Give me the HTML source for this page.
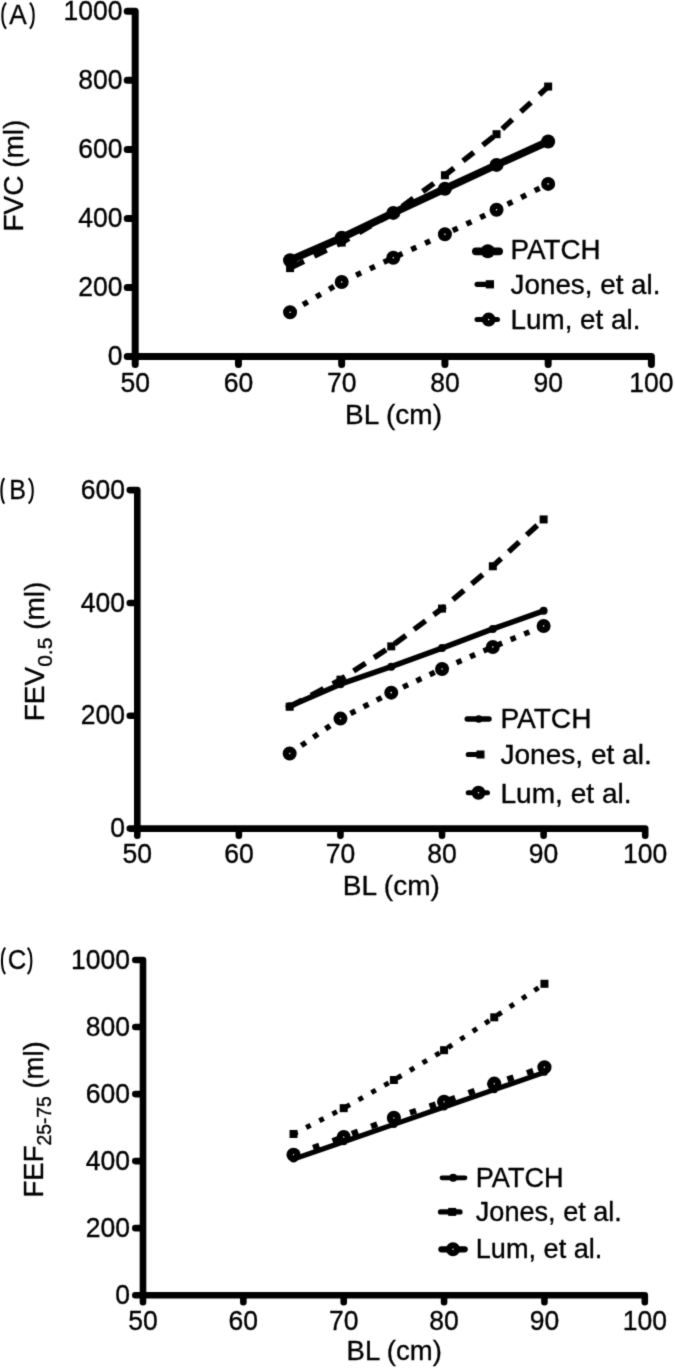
<!DOCTYPE html><html><head><meta charset="utf-8"><style>html,body{margin:0;padding:0;background:#fff;}svg{display:block;}text{font-family:"Liberation Sans", sans-serif;fill:#000;stroke:#000;stroke-width:0.35px;}</style></head><body>
<svg width="675" height="1369" viewBox="0 0 675 1369">
<defs><filter id="bl" x="0" y="0" width="675" height="1369" filterUnits="userSpaceOnUse" primitiveUnits="userSpaceOnUse" color-interpolation-filters="sRGB"><feConvolveMatrix order="3" kernelMatrix="0.0367 0.1915 0.0367 0.1915 1 0.1915 0.0367 0.1915 0.0367" divisor="1.9127" edgeMode="duplicate"/></filter></defs>
<rect width="675" height="1369" fill="#fff"/>
<g filter="url(#bl)">
<path d="M127.2 11.3 H135.2 V356.5 H651.4 V364.5 M127.2 11.3 H135.2 M127.2 80.34 H135.2 M127.2 149.38 H135.2 M127.2 218.42 H135.2 M127.2 287.46 H135.2 M127.2 356.5 H135.2 M135.2 356.5 V364.5 M238.44 356.5 V364.5 M341.68 356.5 V364.5 M444.92 356.5 V364.5 M548.16 356.5 V364.5" fill="none" stroke="#000" stroke-width="7" stroke-linecap="round" stroke-linejoin="round"/>
<text transform="translate(122.6 19.8) scale(0.975 1)" text-anchor="end" font-size="27.2">1000</text>
<text transform="translate(122.6 88.84) scale(0.975 1)" text-anchor="end" font-size="27.2">800</text>
<text transform="translate(122.6 157.88) scale(0.975 1)" text-anchor="end" font-size="27.2">600</text>
<text transform="translate(122.6 226.92) scale(0.975 1)" text-anchor="end" font-size="27.2">400</text>
<text transform="translate(122.6 295.96) scale(0.975 1)" text-anchor="end" font-size="27.2">200</text>
<text transform="translate(122.6 365) scale(0.975 1)" text-anchor="end" font-size="27.2">0</text>
<text transform="translate(135.2 392.4) scale(0.975 1)" text-anchor="middle" font-size="27.2">50</text>
<text transform="translate(238.44 392.4) scale(0.975 1)" text-anchor="middle" font-size="27.2">60</text>
<text transform="translate(341.68 392.4) scale(0.975 1)" text-anchor="middle" font-size="27.2">70</text>
<text transform="translate(444.92 392.4) scale(0.975 1)" text-anchor="middle" font-size="27.2">80</text>
<text transform="translate(548.16 392.4) scale(0.975 1)" text-anchor="middle" font-size="27.2">90</text>
<text transform="translate(651.4 392.4) scale(0.975 1)" text-anchor="middle" font-size="27.2">100</text>
<text x="0" y="0" font-size="28" transform="translate(23.2 231.6) rotate(-90)">FVC (ml)</text>
<text x="393.5" y="424.3" text-anchor="middle" font-size="28">BL (cm)</text>
<path d="M6.05 2.8 C1.12 8.2 1.12 23.3 6.05 28.7" fill="none" stroke="#000" stroke-width="2.1"/>
<path d="M29.95 2.8 C34.88 8.2 34.88 23.3 29.95 28.7" fill="none" stroke="#000" stroke-width="2.1"/>
<text transform="translate(18 23.8) scale(0.92 1)" text-anchor="middle" font-size="28.5">A</text>
<path d="M290.06 312.31 L341.68 281.94 L393.3 257.77 L444.92 234.3 L496.54 209.79 L548.16 183.9" fill="none" stroke="#000" stroke-width="5.5" stroke-dasharray="5.5 9.7" stroke-dashoffset="0.15" stroke-linecap="butt" stroke-linejoin="round"/>
<circle cx="290.06" cy="312.31" r="3.9" fill="#fff" stroke="#000" stroke-width="6.2"/>
<circle cx="341.68" cy="281.94" r="3.9" fill="#fff" stroke="#000" stroke-width="6.2"/>
<circle cx="393.3" cy="257.77" r="3.9" fill="#fff" stroke="#000" stroke-width="6.2"/>
<circle cx="444.92" cy="234.3" r="3.9" fill="#fff" stroke="#000" stroke-width="6.2"/>
<circle cx="496.54" cy="209.79" r="3.9" fill="#fff" stroke="#000" stroke-width="6.2"/>
<circle cx="548.16" cy="183.9" r="3.9" fill="#fff" stroke="#000" stroke-width="6.2"/>
<path d="M290.06 268.13 L341.68 242.58 L393.3 212.9 L444.92 175.27 L496.54 134.19 L548.16 86.55" fill="none" stroke="#000" stroke-width="5.5" stroke-dasharray="13.8 11.5" stroke-dashoffset="23.6" stroke-linecap="butt" stroke-linejoin="round"/>
<rect x="286.06" y="264.13" width="8" height="8"/>
<rect x="337.68" y="238.58" width="8" height="8"/>
<rect x="389.3" y="208.9" width="8" height="8"/>
<rect x="440.92" y="171.27" width="8" height="8"/>
<rect x="492.54" y="130.19" width="8" height="8"/>
<rect x="544.16" y="82.55" width="8" height="8"/>
<path d="M290.06 260.19 L341.68 237.75 L393.3 212.9 L444.92 188.73 L496.54 164.91 L548.16 141.44" fill="none" stroke="#000" stroke-width="7.6" stroke-linecap="butt" stroke-linejoin="round"/>
<circle cx="290.06" cy="260.19" r="7"/>
<circle cx="341.68" cy="237.75" r="7"/>
<circle cx="393.3" cy="212.9" r="7"/>
<circle cx="444.92" cy="188.73" r="7"/>
<circle cx="496.54" cy="164.91" r="7"/>
<circle cx="548.16" cy="141.44" r="7"/>
<path d="M475.9 251.3 H499.1" stroke="#000" stroke-width="7.8" stroke-linecap="round"/>
<circle cx="487.8" cy="251.3" r="7"/>
<text x="510.6" y="259.4" font-size="27.8">PATCH</text>
<path d="M477.1 284.3 H489.4" stroke="#000" stroke-width="5.2" stroke-linecap="round"/>
<rect x="485.8" y="280.2" width="8.2" height="8.2"/>
<text x="510.6" y="293.8" font-size="27.8">Jones, et al.</text>
<path d="M477 319.6 H497.5" stroke="#000" stroke-width="5" stroke-linecap="round"/>
<circle cx="488.7" cy="319.6" r="3.9" fill="#fff" stroke="#000" stroke-width="6.2"/>
<text x="510.6" y="329.2" font-size="27.8">Lum, et al.</text>
<path d="M129.8 490.1 H137.3 V828.6 H645.2 V835.8 M129.8 490.1 H137.3 M129.8 602.93 H137.3 M129.8 715.77 H137.3 M129.8 828.6 H137.3 M137.3 828.6 V835.8 M238.88 828.6 V835.8 M340.46 828.6 V835.8 M442.04 828.6 V835.8 M543.62 828.6 V835.8" fill="none" stroke="#000" stroke-width="6.6" stroke-linecap="round" stroke-linejoin="round"/>
<text transform="translate(125 498.7) scale(0.975 1)" text-anchor="end" font-size="27.2">600</text>
<text transform="translate(125 611.53) scale(0.975 1)" text-anchor="end" font-size="27.2">400</text>
<text transform="translate(125 724.37) scale(0.975 1)" text-anchor="end" font-size="27.2">200</text>
<text transform="translate(125 837.2) scale(0.975 1)" text-anchor="end" font-size="27.2">0</text>
<text transform="translate(137.3 863.4) scale(0.975 1)" text-anchor="middle" font-size="27.2">50</text>
<text transform="translate(238.88 863.4) scale(0.975 1)" text-anchor="middle" font-size="27.2">60</text>
<text transform="translate(340.46 863.4) scale(0.975 1)" text-anchor="middle" font-size="27.2">70</text>
<text transform="translate(442.04 863.4) scale(0.975 1)" text-anchor="middle" font-size="27.2">80</text>
<text transform="translate(543.62 863.4) scale(0.975 1)" text-anchor="middle" font-size="27.2">90</text>
<text transform="translate(645.2 863.4) scale(0.975 1)" text-anchor="middle" font-size="27.2">100</text>
<text x="0" y="0" font-size="28" transform="translate(43.7 721.3) rotate(-90)">FEV<tspan font-size="21" dy="8.5">0.5</tspan><tspan dy="-8.5"> (ml)</tspan></text>
<text x="391.3" y="894.7" text-anchor="middle" font-size="28">BL (cm)</text>
<path d="M4.25 478.2 C0.52 483.6 0.52 498.2 4.25 503.6" fill="none" stroke="#000" stroke-width="2.1"/>
<path d="M28.65 478.2 C34.12 483.6 34.12 498.2 28.65 503.6" fill="none" stroke="#000" stroke-width="2.1"/>
<text transform="translate(17.55 498.9) scale(0.88 1)" text-anchor="middle" font-size="28.5">B</text>
<path d="M289.67 753.57 L340.46 718.59 L391.25 692.64 L442.04 668.94 L492.83 646.94 L543.62 626.06" fill="none" stroke="#000" stroke-width="5.5" stroke-dasharray="5.5 9.2" stroke-dashoffset="0.55" stroke-linecap="butt" stroke-linejoin="round"/>
<circle cx="289.67" cy="753.57" r="3.9" fill="#fff" stroke="#000" stroke-width="6.2"/>
<circle cx="340.46" cy="718.59" r="3.9" fill="#fff" stroke="#000" stroke-width="6.2"/>
<circle cx="391.25" cy="692.64" r="3.9" fill="#fff" stroke="#000" stroke-width="6.2"/>
<circle cx="442.04" cy="668.94" r="3.9" fill="#fff" stroke="#000" stroke-width="6.2"/>
<circle cx="492.83" cy="646.94" r="3.9" fill="#fff" stroke="#000" stroke-width="6.2"/>
<circle cx="543.62" cy="626.06" r="3.9" fill="#fff" stroke="#000" stroke-width="6.2"/>
<path d="M289.67 706.74 L340.46 679.66 L391.25 646.37 L442.04 608.58 L492.83 566.26 L543.62 519.44" fill="none" stroke="#000" stroke-width="5.5" stroke-dasharray="14.3 10.2" stroke-dashoffset="0.25" stroke-linecap="butt" stroke-linejoin="round"/>
<rect x="285.67" y="702.74" width="8" height="8"/>
<rect x="336.46" y="675.66" width="8" height="8"/>
<rect x="387.25" y="642.37" width="8" height="8"/>
<rect x="438.04" y="604.58" width="8" height="8"/>
<rect x="488.83" y="562.26" width="8" height="8"/>
<rect x="539.62" y="515.44" width="8" height="8"/>
<path d="M289.67 706.18 L340.46 684.17 L391.25 666.68 L442.04 648.07 L492.83 628.88 L543.62 610.83" fill="none" stroke="#000" stroke-width="5.5" stroke-linecap="butt" stroke-linejoin="round"/>
<circle cx="289.67" cy="706.18" r="4"/>
<circle cx="340.46" cy="684.17" r="4"/>
<circle cx="391.25" cy="666.68" r="4"/>
<circle cx="442.04" cy="648.07" r="4"/>
<circle cx="492.83" cy="628.88" r="4"/>
<circle cx="543.62" cy="610.83" r="4"/>
<path d="M467.15 719 H489.05" stroke="#000" stroke-width="5.3" stroke-linecap="round"/>
<circle cx="478.7" cy="719" r="3.8"/>
<text x="500.4" y="728.4" font-size="28.1">PATCH</text>
<path d="M468.3 754.5 H480.4" stroke="#000" stroke-width="5.2" stroke-linecap="round"/>
<rect x="476.5" y="750.5" width="8" height="8"/>
<text x="500.4" y="763.5" font-size="28.1">Jones, et al.</text>
<path d="M468.2 792.8 H487.5" stroke="#000" stroke-width="5" stroke-linecap="round"/>
<circle cx="478.5" cy="792.8" r="3.9" fill="#fff" stroke="#000" stroke-width="6.2"/>
<text x="500.4" y="802.5" font-size="28.1">Lum, et al.</text>
<path d="M135.3 960 H143 V1295.2 H644.8 V1302.3 M135.3 960 H143 M135.3 1027.04 H143 M135.3 1094.08 H143 M135.3 1161.12 H143 M135.3 1228.16 H143 M135.3 1295.2 H143 M143 1295.2 V1302.3 M243.36 1295.2 V1302.3 M343.72 1295.2 V1302.3 M444.08 1295.2 V1302.3 M544.44 1295.2 V1302.3" fill="none" stroke="#000" stroke-width="6.6" stroke-linecap="round" stroke-linejoin="round"/>
<text transform="translate(130 968.6) scale(0.975 1)" text-anchor="end" font-size="27.2">1000</text>
<text transform="translate(130 1035.64) scale(0.975 1)" text-anchor="end" font-size="27.2">800</text>
<text transform="translate(130 1102.68) scale(0.975 1)" text-anchor="end" font-size="27.2">600</text>
<text transform="translate(130 1169.72) scale(0.975 1)" text-anchor="end" font-size="27.2">400</text>
<text transform="translate(130 1236.76) scale(0.975 1)" text-anchor="end" font-size="27.2">200</text>
<text transform="translate(130 1303.8) scale(0.975 1)" text-anchor="end" font-size="27.2">0</text>
<text transform="translate(143 1329.9) scale(0.975 1)" text-anchor="middle" font-size="27.2">50</text>
<text transform="translate(243.36 1329.9) scale(0.975 1)" text-anchor="middle" font-size="27.2">60</text>
<text transform="translate(343.72 1329.9) scale(0.975 1)" text-anchor="middle" font-size="27.2">70</text>
<text transform="translate(444.08 1329.9) scale(0.975 1)" text-anchor="middle" font-size="27.2">80</text>
<text transform="translate(544.44 1329.9) scale(0.975 1)" text-anchor="middle" font-size="27.2">90</text>
<text transform="translate(644.8 1329.9) scale(0.975 1)" text-anchor="middle" font-size="27.2">100</text>
<text x="0" y="0" font-size="27.5" transform="translate(43 1197.5) rotate(-90)">FEF<tspan font-size="19.3" dy="8.3">25-75</tspan><tspan dy="-8.3"> (ml)</tspan></text>
<text x="394.2" y="1360.1" text-anchor="middle" font-size="27.5">BL (cm)</text>
<path d="M5.15 947.7 C0.88 953.1 0.88 968.7 5.15 974.1" fill="none" stroke="#000" stroke-width="2.1"/>
<path d="M27.75 947.7 C32.55 953.1 32.55 968.7 27.75 974.1" fill="none" stroke="#000" stroke-width="2.1"/>
<text transform="translate(17.1 969.3) scale(0.9 1)" text-anchor="middle" font-size="28.5">C</text>
<path d="M293.54 1133.97 L343.72 1108.16 L393.9 1080 L444.08 1050.17 L494.26 1017.32 L544.44 983.8" fill="none" stroke="#000" stroke-width="5" stroke-dasharray="5 9.8" stroke-dashoffset="0.6" stroke-linecap="butt" stroke-linejoin="round"/>
<rect x="289.54" y="1129.97" width="8" height="8"/>
<rect x="339.72" y="1104.16" width="8" height="8"/>
<rect x="389.9" y="1076" width="8" height="8"/>
<rect x="440.08" y="1046.17" width="8" height="8"/>
<rect x="490.26" y="1013.32" width="8" height="8"/>
<rect x="540.44" y="979.8" width="8" height="8"/>
<path d="M293.54 1154.75 L343.72 1136.99 L393.9 1117.88 L444.08 1101.79 L494.26 1083.69 L544.44 1067.26" fill="none" stroke="#000" stroke-width="6" stroke-dasharray="6.5 14.1" stroke-dashoffset="20.45" stroke-linecap="butt" stroke-linejoin="round"/>
<circle cx="293.54" cy="1154.75" r="3.9" fill="#fff" stroke="#000" stroke-width="6.4"/>
<circle cx="343.72" cy="1136.99" r="3.9" fill="#fff" stroke="#000" stroke-width="6.4"/>
<circle cx="393.9" cy="1117.88" r="3.9" fill="#fff" stroke="#000" stroke-width="6.4"/>
<circle cx="444.08" cy="1101.79" r="3.9" fill="#fff" stroke="#000" stroke-width="6.4"/>
<circle cx="494.26" cy="1083.69" r="3.9" fill="#fff" stroke="#000" stroke-width="6.4"/>
<circle cx="544.44" cy="1067.26" r="3.9" fill="#fff" stroke="#000" stroke-width="6.4"/>
<path d="M293.54 1159.11 L343.72 1141.75 L393.9 1124.38 L444.08 1107.02 L494.26 1089.66 L544.44 1072.29" fill="none" stroke="#000" stroke-width="5.1" stroke-linecap="butt" stroke-linejoin="round"/>
<circle cx="293.54" cy="1159.11" r="3.5"/>
<circle cx="343.72" cy="1141.75" r="3.5"/>
<circle cx="393.9" cy="1124.38" r="3.5"/>
<circle cx="444.08" cy="1107.02" r="3.5"/>
<circle cx="494.26" cy="1089.66" r="3.5"/>
<circle cx="544.44" cy="1072.29" r="3.5"/>
<path d="M442 1177.8 H465" stroke="#000" stroke-width="4.8" stroke-linecap="round"/>
<circle cx="453.2" cy="1177.8" r="4"/>
<text x="475.8" y="1187.3" font-size="27.1">PATCH</text>
<path d="M440.5 1211.9 H460" stroke="#000" stroke-width="5.2" stroke-linecap="round"/>
<rect x="448.2" y="1207.9" width="8" height="8"/>
<text x="475.8" y="1221" font-size="27.1">Jones, et al.</text>
<path d="M441.45 1249.3 H464.65" stroke="#000" stroke-width="6.3" stroke-linecap="round"/>
<circle cx="453" cy="1249.3" r="3.9" fill="#fff" stroke="#000" stroke-width="6.2"/>
<text x="475.8" y="1258.4" font-size="27.1">Lum, et al.</text>
</g>
</svg></body></html>
